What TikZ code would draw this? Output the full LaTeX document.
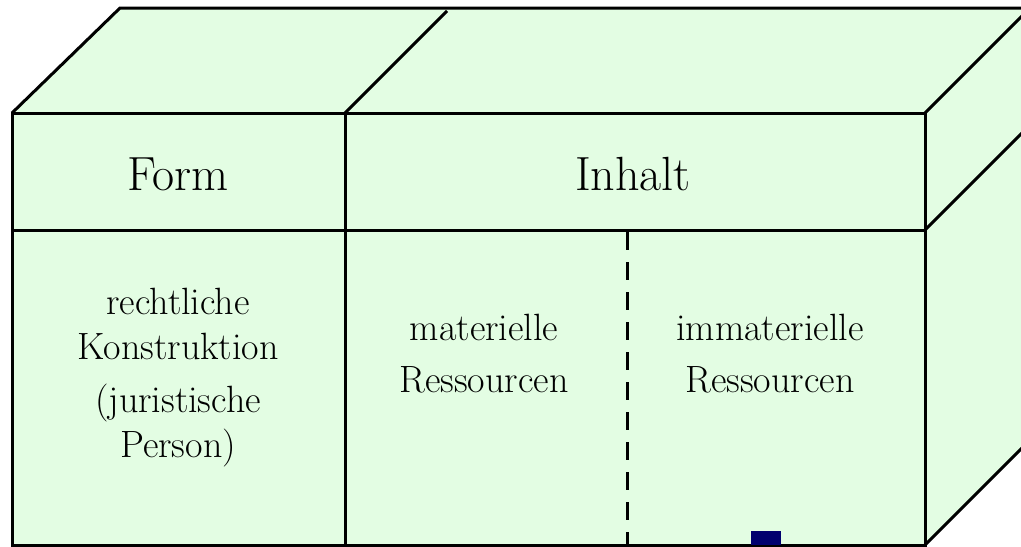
\documentclass[tikz,border=0pt]{standalone}
\usepackage{tikz}
\usetikzlibrary{positioning}
\definecolor{boxgreen}{RGB}{227,253,227}
\definecolor{marknavy}{RGB}{0,0,110}
\tikzset{
  edge/.style={line width=1.5pt,line join=miter},
  head/.style={font=\fontsize{24}{28}\selectfont},
  body/.style={align=center,font=\fontsize{19}{22.5}\selectfont},
}
\begin{document}
\begin{tikzpicture}[x=0.5pt,y=-0.5pt]
              \useasboundingbox (0,0) rectangle (1021,546);
              \clip (0,0) rectangle (1021,546);
              % faces
              \fill[boxgreen] (12,113) -- (120,8) -- (1035,8) -- (1035,437) -- (925,545) -- (12,545) -- cycle;
              \draw[edge] (12,113) -- (120,8) -- (1035,8);
              \draw[edge] (345,113) -- (447,11);
              \draw[edge] (925,113) -- (1030,8);
              \draw[edge] (925,230) -- (1040,115);
              \draw[edge] (925,545) -- (1030,440);
              \draw[edge] (12,113) rectangle (925,545);
              \draw[edge] (12,230) -- (925,230);
              \draw[edge] (345,113) -- (345,545);
              \draw[edge,dash pattern=on 9pt off 6pt] (627,232) -- (627,545);
              \fill[marknavy] (751,531) rectangle (781,545);
              % texts
              \node[head](form)at(178,174){Form};
              \node[head](inhalt)at(633,174){Inhalt};
              \node[body](recht)at(178,378){rechtliche\\Konstruktion\\[4pt](juristische\\Person)};
              \node[body](mat)at(484,354){materielle\\[3.5pt]Ressourcen};
              \node[body](immat)at(770,354){immaterielle\\[3.5pt]Ressourcen};
            \end{tikzpicture}
\end{document}
